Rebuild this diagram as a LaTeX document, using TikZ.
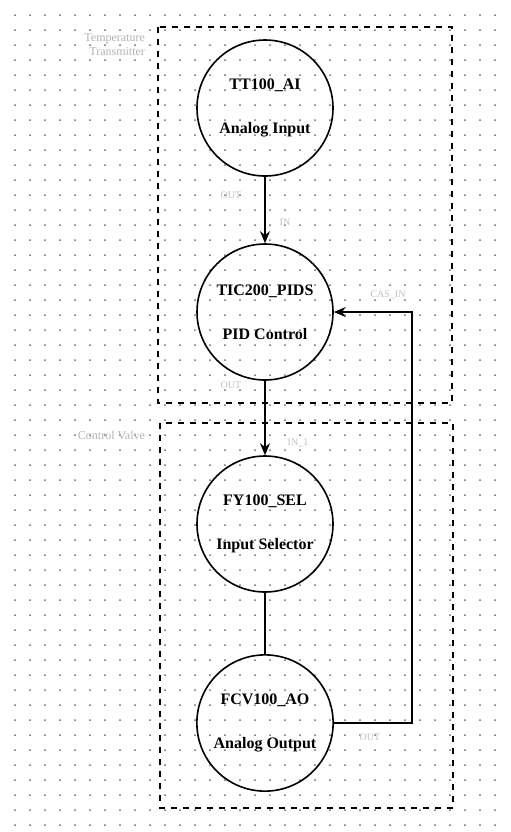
\documentclass[tikz,border=0pt]{standalone}
\usepackage{fontspec}
\setmainfont{Liberation Serif}
\usetikzlibrary{arrows.meta}
\tikzset{
  block/.style={circle,draw,thick,minimum size=68pt,align=center,font=\fontsize{8}{10}\selectfont\bfseries},
  pin/.style={font=\fontsize{5}{6}\selectfont,text=black!25},
  group/.style={draw,dashed,thick},
  grouplabel/.style={font=\fontsize{6}{7}\selectfont,text=black!30,align=right}
}
\begin{document}
\begin{tikzpicture}[x=0.5pt,y=-0.5pt]
\useasboundingbox (0,0) rectangle (510,832);
% grid
\foreach \i in {1,...,33}
  \foreach \j in {1,...,55}
    \fill[black!60] (\i*15,\j*15) circle (0.5pt);

% groups
\draw[group] (158,27) rectangle (452,403);
\node[grouplabel,anchor=north east] (g1) at (152,27) {Temperature\\Transmitter};
\draw[group] (160,423) rectangle (453,808);
\node[grouplabel,anchor=north east] (g2) at (152,424) {Control Valve};

% blocks
\node[block] (tt) at (265,108) {TT100\_AI\\[12pt]Analog Input};
\node[block] (tic) at (265,312) {TIC200\_PIDS\\[12pt]PID Control};
\node[block] (fy) at (265,524) {FY100\_SEL\\[12pt]Input Selector};
\node[block] (fcv) at (265,723) {FCV100\_AO\\[12pt]Analog Output};

% links
\draw[thick,-{Stealth[length=6pt,width=5pt]}] (tt.south) -- (tic.north);
\draw[thick,-{Stealth[length=6pt,width=5pt]}] (tic.south) -- (fy.north);
\draw[thick] (fy.south) -- (fcv.north);
\coordinate (ret) at (412,0);
\draw[thick,-{Stealth[length=6pt,width=5pt]}] (fcv.east) -| (ret |- tic.east) -- (tic.east);

% pins
\node[pin] (p1) at (231,195) {OUT};
\node[pin] (p2) at (285,222) {IN};
\node[pin] (p3) at (231,385) {OUT};
\node[pin] (p4) at (298,443) {IN\_1};
\node[pin] (p5) at (388,295) {CAS\_IN};
\node[pin] (p6) at (370,737) {OUT};
\end{tikzpicture}
\end{document}
